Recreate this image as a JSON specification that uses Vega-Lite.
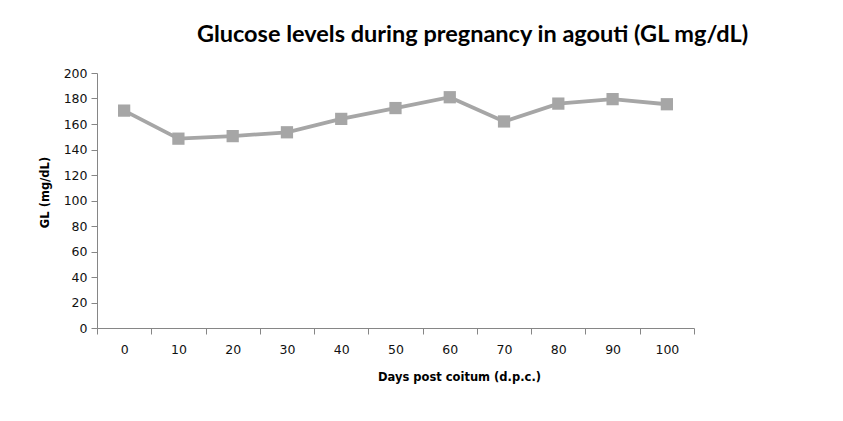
{
  "$schema": "https://vega.github.io/schema/vega-lite/v6.json",
  "autosize": {"type": "none"},
  "width": 597,
  "height": 255,
  "padding": {"left": 97, "top": 73, "right": 149, "bottom": 93},
  "background": "white",
  "title": {
    "text": "Glucose levels during pregnancy in agouti (GL mg/dL)",
    "font": "Lato",
    "fontSize": 23.5,
    "fontWeight": "bold",
    "color": "#000000",
    "anchor": "middle",
    "dx": 77,
    "offset": 21
  },
  "data": {
    "values": [
      {"dpc": "0", "gl": 170.5},
      {"dpc": "10", "gl": 148.5},
      {"dpc": "20", "gl": 150.5},
      {"dpc": "30", "gl": 153.5},
      {"dpc": "40", "gl": 164},
      {"dpc": "50", "gl": 172.5},
      {"dpc": "60", "gl": 181},
      {"dpc": "70", "gl": 162},
      {"dpc": "80", "gl": 176},
      {"dpc": "90", "gl": 179.5},
      {"dpc": "100", "gl": 175.5}
    ]
  },
  "mark": {
    "type": "line",
    "color": "#a6a6a6",
    "strokeWidth": 3.8,
    "point": {"shape": "square", "size": 150, "filled": true, "color": "#a6a6a6", "opacity": 1}
  },
  "encoding": {
    "x": {
      "field": "dpc",
      "type": "ordinal",
      "sort": null,
      "bandPosition": 0.5,
      "scale": {"type": "band", "paddingInner": 0, "paddingOuter": 0},
      "axis": {
        "title": "Days post coitum (d.p.c.)",
        "titleFont": "DejaVu Sans",
        "titleFontSize": 11.5,
        "titleFontWeight": "bold",
        "titleColor": "#000000",
        "titleX": 362,
        "titleY": 49,
        "titleAlign": "center",
        "titleBaseline": "middle",
        "labelAngle": 0,
        "labelFont": "DejaVu Sans",
        "labelFontSize": 12.5,
        "labelColor": "#111111",
        "labelPadding": 9,
        "tickBand": "extent",
        "tickSize": 6,
        "tickColor": "#868686",
        "domainColor": "#868686",
        "grid": false
      }
    },
    "y": {
      "field": "gl",
      "type": "quantitative",
      "scale": {"domain": [0, 200], "nice": false, "zero": true},
      "axis": {
        "title": "GL (mg/dL)",
        "titleFont": "DejaVu Sans",
        "titleFontSize": 11.5,
        "titleFontWeight": "bold",
        "titleColor": "#000000",
        "titleX": -52,
        "titleY": 119,
        "titleAlign": "center",
        "titleBaseline": "middle",
        "titleAngle": -90,
        "values": [0, 20, 40, 60, 80, 100, 120, 140, 160, 180, 200],
        "labelFont": "DejaVu Sans",
        "labelFontSize": 12.5,
        "labelColor": "#111111",
        "labelPadding": 4,
        "tickSize": 6,
        "tickColor": "#868686",
        "domainColor": "#868686",
        "grid": false
      }
    }
  },
  "config": {"view": {"stroke": null}}
}
